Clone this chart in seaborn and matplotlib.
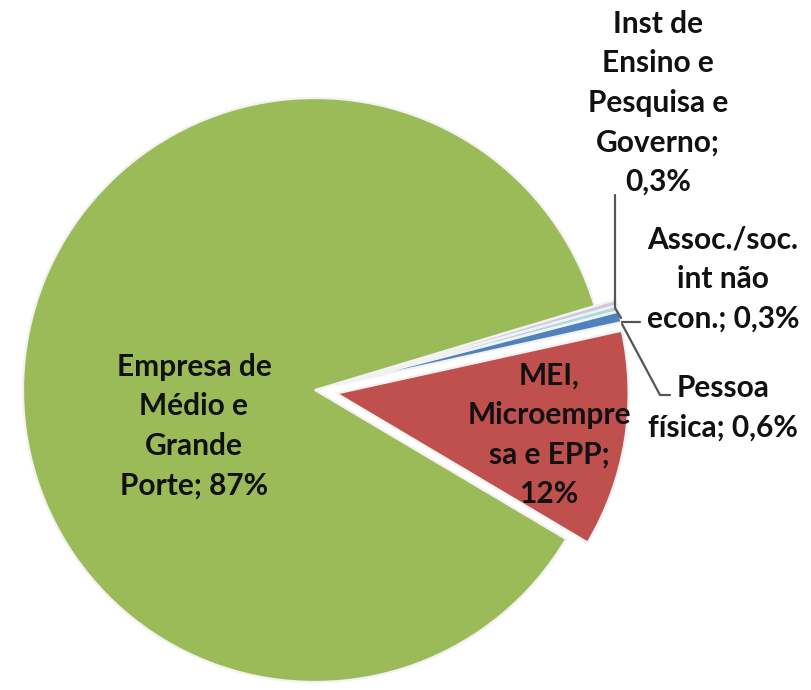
import matplotlib
matplotlib.use("Agg")
import matplotlib.pyplot as plt
import seaborn as sns

# data
labels = ["MEI,\nMicroempre\nsa e EPP;\n12%",
          "Pessoa\nfísica; 0,6%",
          "Assoc./soc.\nint não\necon.; 0,3%",
          "Inst de\nEnsino e\nPesquisa e\nGoverno;\n0,3%",
          "Empresa de\nMédio e\nGrande\nPorte; 87%"]
values = [12, 0.6, 0.3, 0.3, 87]
colors = ["#C0504D", "#4F81BD", "#A9D8E6", "#CFC6E0", "#9BBB59"]
explode = [0.075, 0.075, 0.075, 0.075, 0]

sns.set_theme(style="white")
plt.rcParams['font.family'] = ['Lato', 'DejaVu Sans']

W, H = 812, 690
cx, cy, R = 315, 390, 292

def px(x, y):
    # pixel position -> data coords of the pie
    return (x - cx) / R, (cy - y) / R

fig = plt.figure(figsize=(W / 100, H / 100), dpi=100)
ax = fig.add_axes([0, 0, 1, 1])
ax.pie(values, colors=colors, explode=explode, startangle=-30.7,
       counterclock=True,
       wedgeprops=dict(edgecolor="#f2f2f2", linewidth=1.6))

# label positions (pixels)
label_pos = [(549, 435), (723, 408), (723, 279), (658, 103), (194, 426)]
for lab, (x, y) in zip(labels, label_pos):
    tx, ty = px(x, y)
    ax.text(tx, ty, lab, ha="center", va="center", fontsize=21.5,
            fontweight="bold", color="#111111", linespacing=1.5)

# leader lines
lines = [[(615, 195), (615, 308), (621, 318)],
         [(622, 322), (640, 322)],
         [(622, 324), (660, 395), (670, 395)]]
for pts in lines:
    xs, ys = zip(*[px(a, b) for a, b in pts])
    ax.plot(xs, ys, color="#555555", lw=1.6)

x0, y0 = px(0, H)
x1, y1 = px(W, 0)
ax.set_xlim(x0, x1)
ax.set_ylim(y0, y1)
ax.set_aspect("auto")
ax.axis("off")
fig.savefig("out.png", dpi=100, facecolor="white")
